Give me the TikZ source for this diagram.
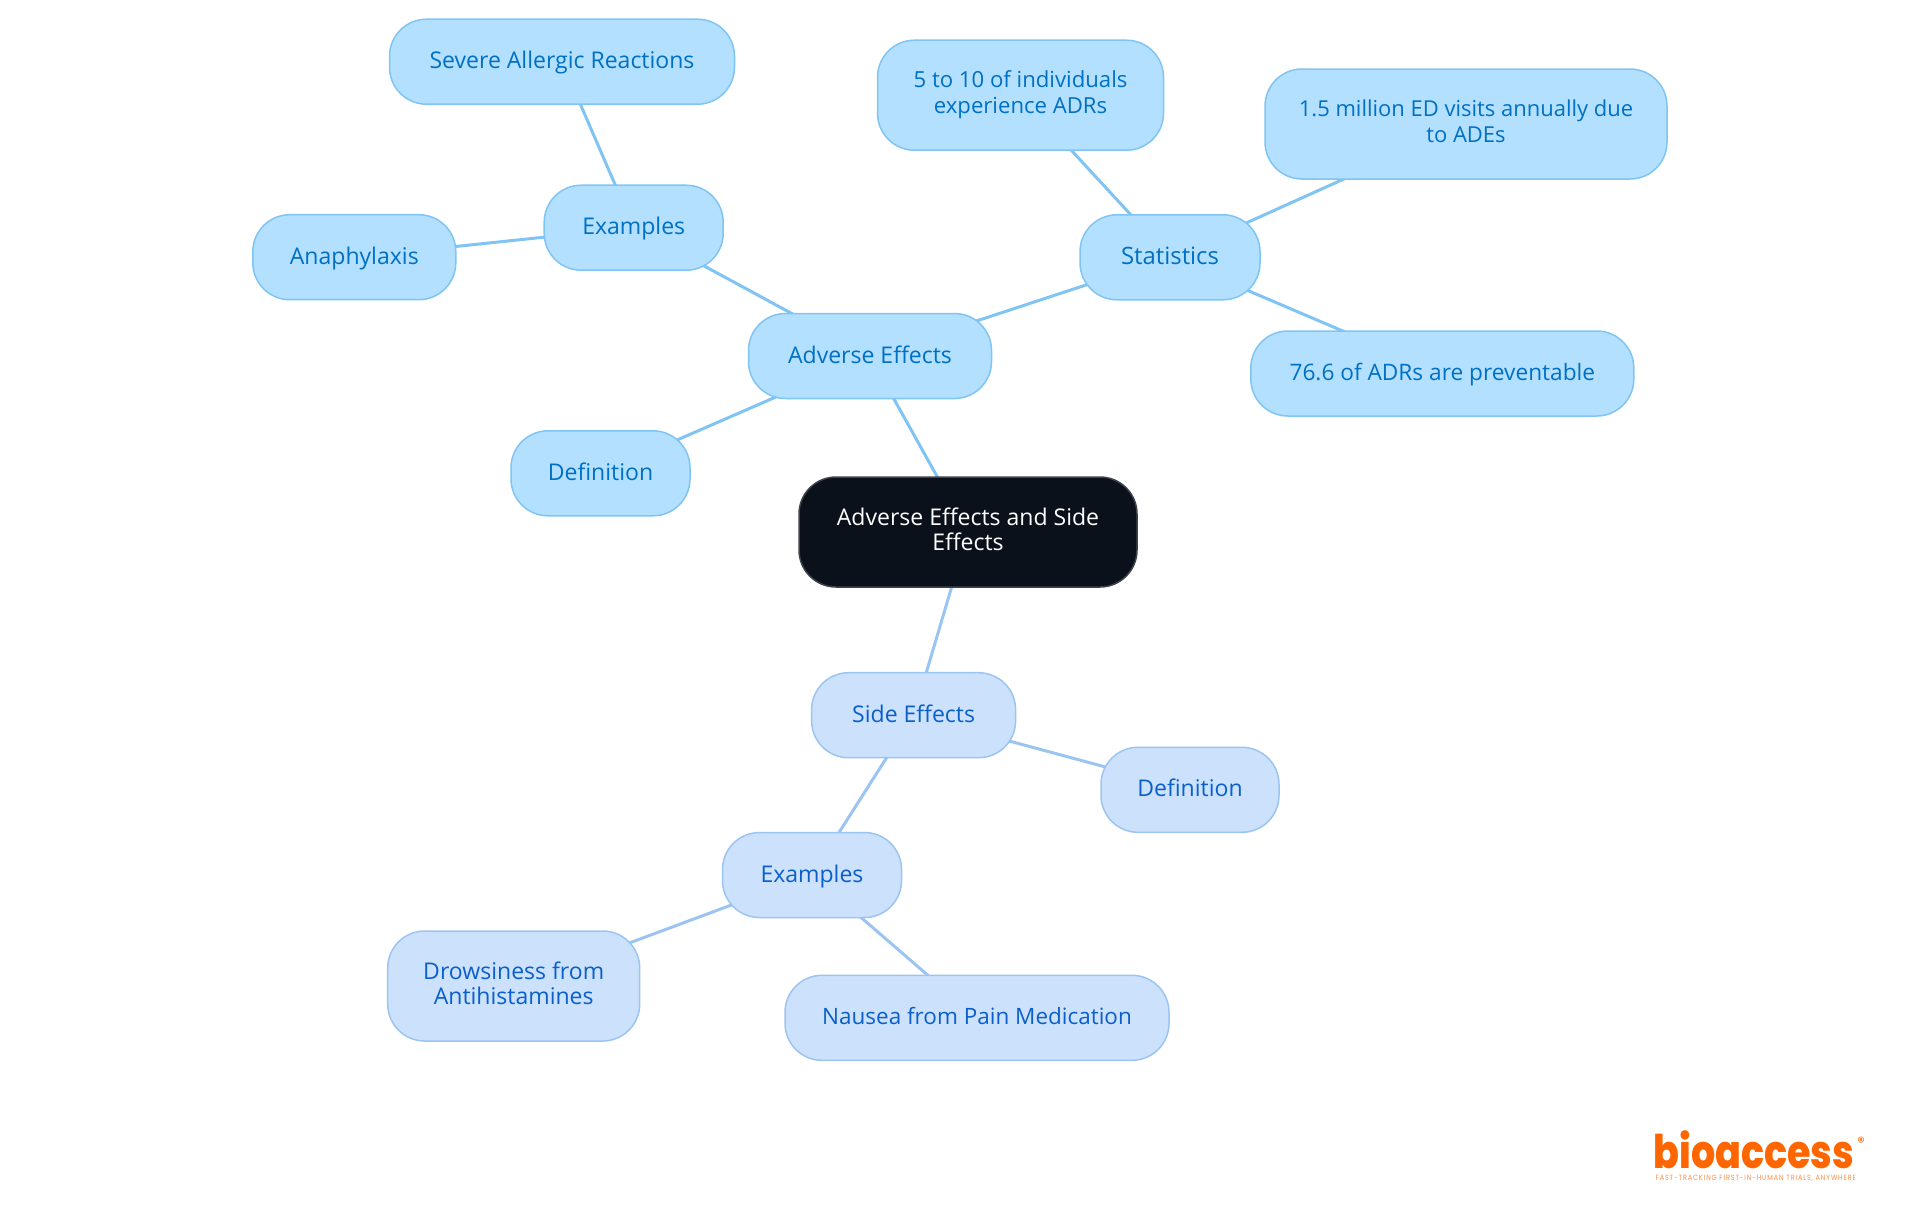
\documentclass[tikz,border=0pt]{standalone}
\usepackage{fontspec}
\setmainfont{Open Sans}
\newfontfamily\logofont{Poppins ExtraBold}
\newfontfamily\regfont{Poppins}
\newfontfamily\tagfont[LetterSpace=14]{Poppins}
\usepackage{xcolor}
\usepackage{tikz}
\usetikzlibrary{positioning, backgrounds}

\definecolor{rootfill}{HTML}{0B111B}
\definecolor{rootline}{HTML}{3F444C}
\definecolor{advfill}{HTML}{B3E0FF}
\definecolor{advline}{HTML}{80C4F4}
\definecolor{advtext}{HTML}{0070C4}
\definecolor{sidefill}{HTML}{CCE2FC}
\definecolor{sideline}{HTML}{9CC4F2}
\definecolor{sidetext}{HTML}{0A5FCC}
\definecolor{logoorange}{HTML}{FF6600}

\newcommand{\mapstrut}{\rule[-0.6mm]{0pt}{2.6mm}}
\newcommand{\tallstrut}{\rule{0pt}{2.3mm}}

\begin{document}
\begin{tikzpicture}[
    on grid,
    mapnode/.style={rectangle, rounded corners=3.7mm, line width=0.15mm, inner sep=0pt, align=center, minimum height=0.85cm, font=\fontsize{6.55}{7.25}\selectfont, execute at begin node=\mapstrut, execute at end node=\mapstrut},
    rootnode/.style={mapnode, fill=rootfill, draw=rootline, text=white},
    advnode/.style={mapnode, fill=advfill, draw=advline, text=advtext},
    sidenode/.style={mapnode, fill=sidefill, draw=sideline, text=sidetext},
    twoline/.style={minimum height=1.1cm, execute at begin node=\tallstrut},
    textsize/.style={font=\fontsize{#1}{7.25}\selectfont},
    advlink/.style={draw=advline, line width=0.3mm},
    sidelink/.style={draw=sideline, line width=0.3mm}
]
\useasboundingbox (0,0) rectangle (19.2,-12.15);

\node[rootnode, twoline, minimum width=3.38cm](root) at (9.68,-5.32){Adverse Effects and Side\\Effects};

\node[advnode, minimum width=2.43cm](adv)[above left = 1.76cm and 0.98cm of root]{Adverse Effects};
\node[advnode, minimum width=1.79cm](advex)[above left = 1.283cm and 2.363cm of adv]{Examples};
\node[advnode, minimum width=3.45cm](severe)[above left = 1.66cm and 0.717cm of advex]{Severe Allergic Reactions};
\node[advnode, minimum width=2.03cm](ana)[below left = 0.295cm and 2.794cm of advex]{Anaphylaxis};
\node[advnode, minimum width=1.79cm](advdef)[below left = 1.173cm and 2.695cm of adv]{Definition};
\node[advnode, minimum width=1.8cm, textsize=6.8](stats)[above right = 0.987cm and 3.0cm of adv]{Statistics};
\node[advnode, twoline, minimum width=2.86cm, textsize=6.3](five)[above left = 1.621cm and 1.495cm of stats]{5 to 10 of individuals\\experience ADRs};
\node[advnode, twoline, minimum width=4.02cm, textsize=6.25](million)[above right = 1.333cm and 2.96cm of stats]{1.5 million ED visits annually due\\to ADEs};
\node[advnode, minimum width=3.83cm, textsize=6.45](prevent)[below right = 1.162cm and 2.723cm of stats]{76.6 of ADRs are preventable};

\node[sidenode, minimum width=2.04cm](side)[below left = 1.832cm and 0.544cm of root]{Side Effects};
\node[sidenode, minimum width=1.78cm](sidedef)[below right = 0.746cm and 2.764cm of side]{Definition};
\node[sidenode, minimum width=1.79cm](sideex)[below left = 1.598cm and 1.016cm of side]{Examples};
\node[sidenode, twoline, minimum width=2.52cm](drowsy)[below left = 1.11cm and 2.983cm of sideex]{Drowsiness from\\Antihistamines};
\node[sidenode, minimum width=3.84cm, textsize=6.4](nausea)[below right = 1.428cm and 1.65cm of sideex]{Nausea from Pain Medication};

\begin{scope}[on background layer]
\draw[advlink] (root.center) -- (adv.center);
\draw[advlink] (adv.center) -- (advex.center);
\draw[advlink] (advex.center) -- (severe.center);
\draw[advlink] (advex.center) -- (ana.center);
\draw[advlink] (adv.center) -- (advdef.center);
\draw[advlink] (adv.center) -- (stats.center);
\draw[advlink] (stats.center) -- (five.center);
\draw[advlink] (stats.center) -- (million.center);
\draw[advlink] (stats.center) -- (prevent.center);
\draw[sidelink] (root.center) -- (side.center);
\draw[sidelink] (side.center) -- (sidedef.center);
\draw[sidelink] (side.center) -- (sideex.center);
\draw[sidelink] (sideex.center) -- (drowsy.center);
\draw[sidelink] (sideex.center) -- (nausea.center);
\end{scope}

\node[anchor=base west, inner sep=0pt, text=logoorange, xscale=0.82, transform shape, font=\logofont\fontsize{13.2}{14}\selectfont](logo) at (16.53,-11.68){bioaccess};
\node[anchor=center, inner sep=0pt, text=logoorange, font=\regfont\fontsize{4.2}{5}\selectfont](regmark) at (18.61,-11.42){\textregistered};
\node[anchor=base west, inner sep=0pt, text=logoorange!75, xscale=0.855, transform shape, font=\tagfont\fontsize{2.15}{3}\selectfont](tagline) at (16.55,-11.8){FAST-TRACKING FIRST-IN-HUMAN TRIALS, ANYWHERE};
\end{tikzpicture}
\end{document}
